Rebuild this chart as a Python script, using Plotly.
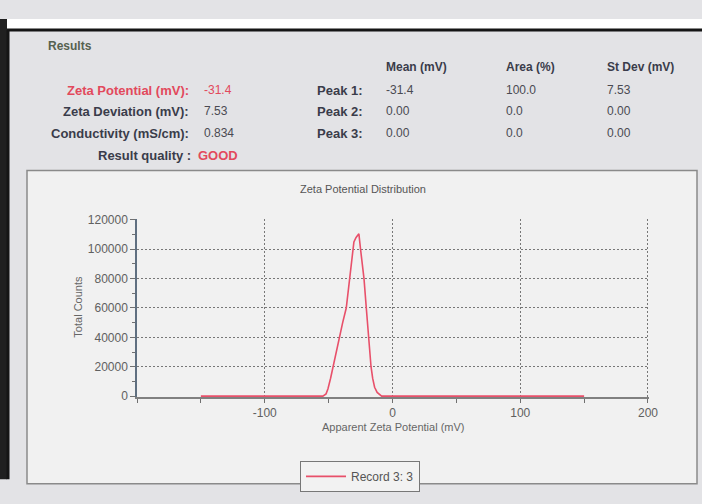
import plotly.graph_objects as go

# ---- data ----
zeta_mv = [-150, -60, -54.5, -52, -50.5, -48.5, -46.6, -44, -41.4, -39, -36.2, -33.6,
           -30.9, -30.2, -28.5, -26.3, -25, -22.3, -20.5, -18.7, -16.8, -15.5, -14,
           -12, -10, -8.5, 0, 150]
total_counts = [0, 0, 0, 1500, 5000, 12000, 20000, 30000, 40000, 50000, 60000, 80000,
                100000, 105000, 108000, 110500, 100000, 80000, 60000, 40000, 20000, 12000, 6000,
                2500, 800, 0, 0, 0]
x_ticks = [-100, 0, 100, 200]
y_ticks = [0, 20000, 40000, 60000, 80000, 100000, 120000]
series_name = "Record 3: 3"

summary_labels = ["Zeta Potential (mV):", "Zeta Deviation (mV):", "Conductivity (mS/cm):"]
summary_values = ["-31.4", "7.53", "0.834"]
peak_labels = ["Peak 1:", "Peak 2:", "Peak 3:"]
peak_mean = ["-31.4", "0.00", "0.00"]
peak_area = ["100.0", "0.0", "0.0"]
peak_sd = ["7.53", "0.00", "0.00"]
col_headers = ["Mean (mV)", "Area (%)", "St Dev (mV)"]

W, H = 702, 504
L, R, T, B = 137, 649, 219, 414


def px(x):
    return (x - L) / (R - L)


def py(y):
    return (B - y) / (B - T)


RED = "#e2495c"
LAB = "#3a3c4a"
VAL = "#4a4a52"
NARROW = "Liberation Sans Narrow, Arial Narrow, Liberation Sans, Arial"
SANS = "Liberation Sans, Arial"

fig = go.Figure()
fig.add_trace(go.Scatter(x=zeta_mv, y=total_counts, mode="lines", name=series_name,
                         line=dict(color="#e8506a", width=1.6)))

shapes = [
    dict(type="rect", xref="paper", yref="paper", x0=px(0), x1=px(W), y0=py(11), y1=py(0),
         fillcolor="white", line=dict(width=0), layer="below"),
    dict(type="rect", xref="paper", yref="paper", x0=px(0), x1=px(7), y0=py(H), y1=py(0),
         fillcolor="#202020", line=dict(width=0), layer="below"),
    dict(type="rect", xref="paper", yref="paper", x0=px(27), x1=px(697), y0=py(H + 5), y1=py(166),
         fillcolor="#f1f1f1", line=dict(color="#8a8a8a", width=1.5), layer="below"),
    dict(type="line", xref="paper", yref="paper", x0=px(7), x1=px(W), y0=py(12), y1=py(12),
         line=dict(color="#151515", width=3), layer="above"),
    dict(type="line", xref="paper", yref="paper", x0=px(8), x1=px(8), y0=py(12), y1=py(H),
         line=dict(color="#151515", width=3), layer="above"),
]

ann = []


def text(x, y, s, color=LAB, size=12, bold=False, anchor="left", family=SANS):
    ann.append(dict(xref="paper", yref="paper", x=px(x), y=py(y), text=f"<b>{s}</b>" if bold else s,
                    showarrow=False, xanchor=anchor, yanchor="middle",
                    font=dict(family=family, size=size, color=color)))


text(46, 29, "Results", color="#56614f", size=12, bold=True, family=NARROW)
rows_y = [78, 101, 125]
for i, (lab, val) in enumerate(zip(summary_labels, summary_values)):
    c = RED if i == 0 else LAB
    text(191, rows_y[i], lab, color=c, size=13, bold=True, anchor="right", family=NARROW)
    text(202, rows_y[i], val, color=RED if i == 0 else VAL, size=12, family=NARROW)
text(193, 149, "Result quality :", size=13, bold=True, anchor="right", family=NARROW)
text(196, 149, "GOOD", color=RED, size=13, bold=True, family=NARROW)

cols_x = [384, 504, 605]
for cx, h in zip(cols_x, col_headers):
    text(cx, 52, h, size=12, bold=True, family=NARROW)
for i in range(3):
    text(365, rows_y[i], peak_labels[i], size=13, bold=True, anchor="right", family=NARROW)
    text(cols_x[0], rows_y[i], peak_mean[i], size=12, color=VAL, family=NARROW)
    text(cols_x[1], rows_y[i], peak_area[i], size=12, color=VAL, family=NARROW)
    text(cols_x[2], rows_y[i], peak_sd[i], size=12, color=VAL, family=NARROW)

text(363, 186, "Zeta Potential Distribution", size=11, color="#555", anchor="center", family=NARROW)
text(393, 447, "Apparent Zeta Potential (mV)", size=11, color="#666", anchor="center", family=NARROW)
ann.append(dict(xref="paper", yref="paper", x=px(78), y=py(315), text="Total Counts", textangle=-90,
                showarrow=False, xanchor="center", yanchor="middle",
                font=dict(family=NARROW, size=11, color="#666")))

fig.update_layout(
    width=W, height=H,
    margin=dict(l=L, r=W - R, t=T, b=H - B, pad=0),
    paper_bgcolor="#e3e3e6",
    plot_bgcolor="rgba(0,0,0,0)",
    shapes=shapes,
    annotations=ann,
    showlegend=True,
    legend=dict(x=px(300), y=py(484), xanchor="left", yanchor="top",
                bgcolor="#f2f2f2", bordercolor="#777", borderwidth=1,
                font=dict(family=NARROW, size=12, color="#555"), itemwidth=40,
                tracegroupgap=0),
    xaxis=dict(range=[-200, 200.8], tickvals=x_ticks, ticktext=[str(v) for v in x_ticks],
               showgrid=True, gridcolor="#777", griddash="2px,2px", gridwidth=1,
               zeroline=False, showline=True, linecolor="#808080", linewidth=1.5,
               ticks="outside", ticklen=4, tickcolor="#707070", layer="below traces",
               tickfont=dict(family=SANS, size=12, color="#606060"),
               minor=dict(dtick=50, tick0=0, ticks="outside", ticklen=4, tickcolor="#707070",
                          showgrid=False),
               fixedrange=True),
    yaxis=dict(range=[-620, 120600], tickvals=y_ticks, ticktext=[str(v) for v in y_ticks],
               showgrid=True, gridcolor="#777", griddash="2px,2px", gridwidth=1,
               zeroline=False, showline=True, linecolor="#5f6f80", linewidth=1.5,
               ticks="outside", ticklen=5, tickcolor="#707070", layer="below traces",
               tickfont=dict(family=SANS, size=12, color="#606060"),
               minor=dict(dtick=10000, tick0=0, ticks="outside", ticklen=3, tickcolor="#707070",
                          showgrid=False),
               fixedrange=True),
)

fig.write_html("out.html", config={"displayModeBar": False},
               post_script="document.body.style.margin='0';document.body.style.overflow='hidden';")
